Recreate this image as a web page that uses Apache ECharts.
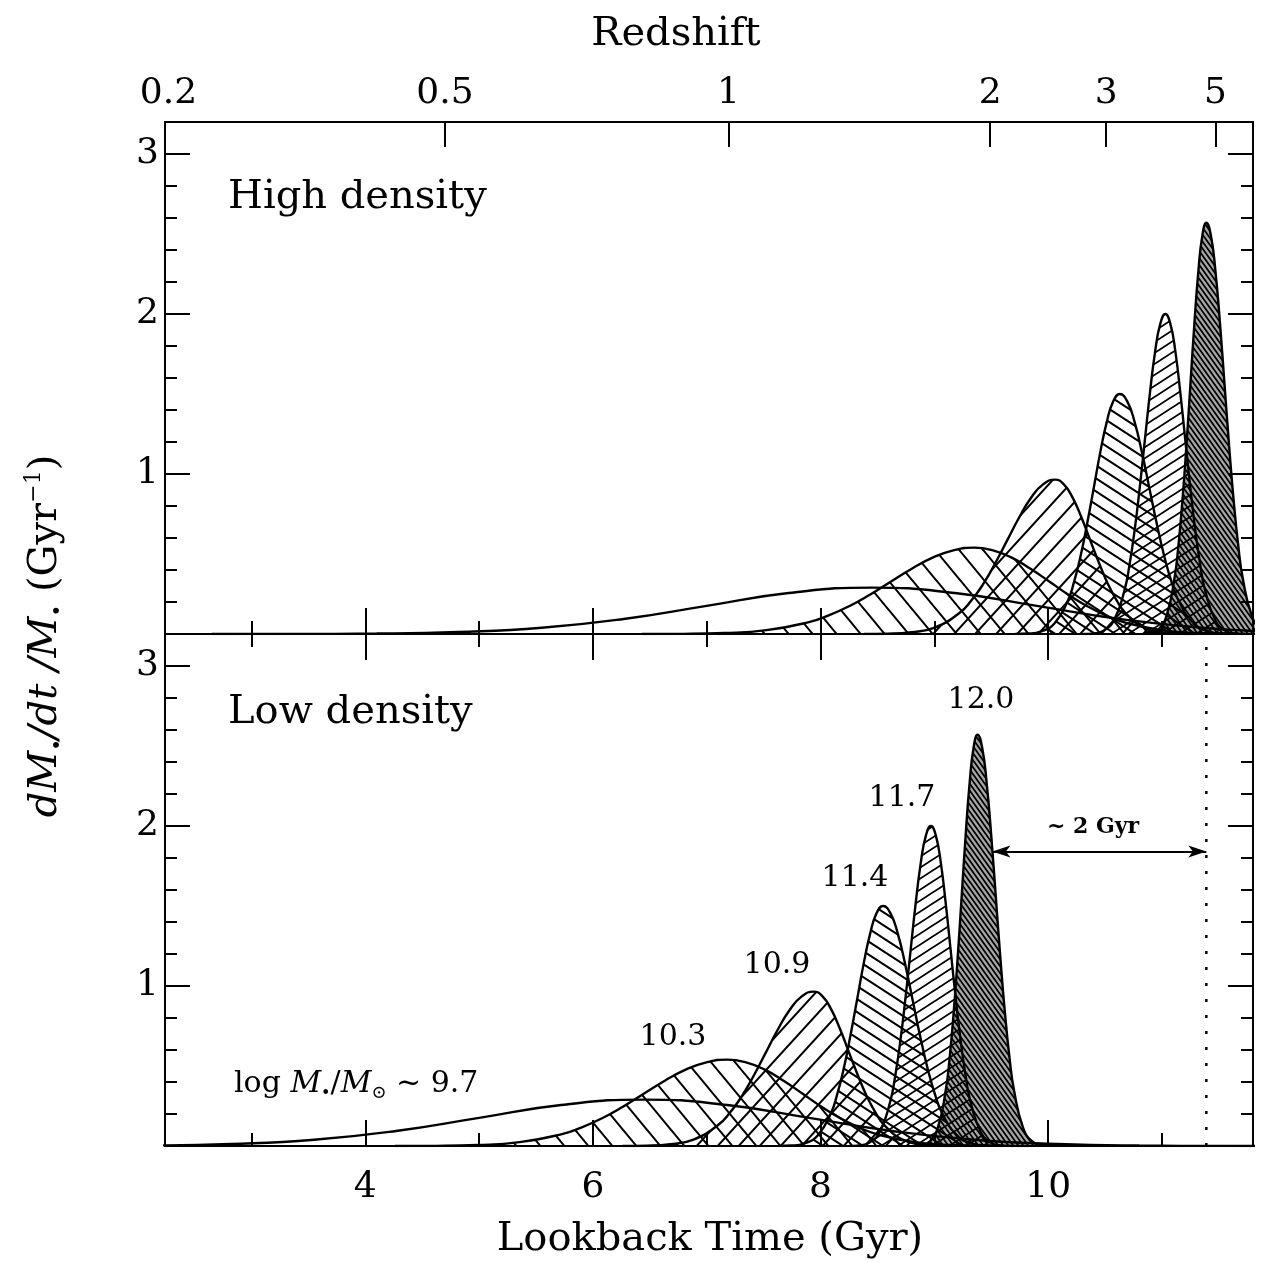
<!DOCTYPE html>
<html>
<head>
<meta charset="utf-8">
<script src="https://cdn.jsdelivr.net/npm/echarts@6/dist/echarts.min.js"></script>
<style>
  html, body { margin: 0; padding: 0; background: #fff; }
  #chart { width: 1279px; height: 1263px; }
</style>
</head>
<body>
<div id="chart"></div>
<script>
  // ---- data ----
  const masses = ['9.7', '10.3', '10.9', '11.4', '11.7', '12.0']
  // time of peak star formation (lookback Gyr) in each environment
  const peakHigh = [8.45, 9.35, 10.06, 10.63, 11.03, 11.39]
  const peakLow = [6.45, 7.18, 7.94, 8.55, 8.97, 9.38]

  // shape of each SFH: offset from peak (Gyr) and dM/dt/M (Gyr^-1)
  const dt97 = [-5.8, -5.08, -4.35, -3.63, -2.9, -2.18, -1.45, -0.73, 0, 0.73, 1.45, 2.18, 2.9, 3.63, 4.35, 5.08, 5.8]
  const sfr97 = [0.0001, 0.0006, 0.003, 0.013, 0.039, 0.094, 0.176, 0.256, 0.29, 0.256, 0.176, 0.094, 0.039, 0.013, 0.003, 0.0006, 0.0001]
  const dt103 = [-2.92, -2.555, -2.19, -1.825, -1.46, -1.278, -1.095, -0.913, -0.73, -0.548, -0.365, -0.183, 0,
    0.165, 0.33, 0.495, 0.66, 0.825, 0.99, 1.155, 1.32, 1.65, 1.98, 2.31, 2.64]
  const sfr103 = [0.0002, 0.001, 0.006, 0.024, 0.073, 0.117, 0.175, 0.247, 0.328, 0.408, 0.477, 0.523, 0.54,
    0.523, 0.477, 0.408, 0.328, 0.247, 0.175, 0.117, 0.073, 0.024, 0.006, 0.001, 0.0002]
  const dt109 = [-1.68, -1.47, -1.26, -1.05, -0.84, -0.735, -0.63, -0.525, -0.42, -0.315, -0.21, -0.105, 0,
    0.078, 0.155, 0.233, 0.31, 0.388, 0.465, 0.543, 0.62, 0.775, 0.93, 1.085, 1.24]
  const sfr109 = [0.0003, 0.002, 0.011, 0.042, 0.131, 0.209, 0.313, 0.442, 0.585, 0.728, 0.852, 0.935, 0.965,
    0.935, 0.852, 0.728, 0.585, 0.442, 0.313, 0.209, 0.131, 0.042, 0.011, 0.002, 0.0003]
  const dt114 = [-0.92, -0.805, -0.69, -0.575, -0.46, -0.403, -0.345, -0.288, -0.23, -0.173, -0.115, -0.058, 0,
    0.065, 0.13, 0.195, 0.26, 0.325, 0.39, 0.455, 0.52, 0.65, 0.78, 0.91, 1.04]
  const sfr114 = [0.0005, 0.003, 0.017, 0.066, 0.203, 0.324, 0.487, 0.687, 0.91, 1.132, 1.324, 1.454, 1.5,
    1.454, 1.324, 1.132, 0.91, 0.687, 0.487, 0.324, 0.203, 0.066, 0.017, 0.003, 0.0005]
  const dt117 = [-0.72, -0.63, -0.54, -0.45, -0.36, -0.315, -0.27, -0.225, -0.18, -0.135, -0.09, -0.045, 0,
    0.044, 0.088, 0.131, 0.175, 0.219, 0.263, 0.306, 0.35, 0.438, 0.525, 0.613, 0.7]
  const sfr117 = [0.0006, 0.004, 0.022, 0.088, 0.271, 0.433, 0.649, 0.916, 1.213, 1.51, 1.765, 1.938, 2.0,
    1.938, 1.765, 1.51, 1.213, 0.916, 0.649, 0.433, 0.271, 0.088, 0.022, 0.004, 0.0006]
  const dt120 = [-0.56, -0.49, -0.42, -0.35, -0.28, -0.245, -0.21, -0.175, -0.14, -0.105, -0.07, -0.035, 0,
    0.04, 0.08, 0.12, 0.16, 0.2, 0.24, 0.28, 0.32, 0.4, 0.48, 0.56, 0.64]
  const sfr120 = [0.0008, 0.006, 0.029, 0.113, 0.348, 0.556, 0.835, 1.177, 1.559, 1.94, 2.268, 2.491, 2.57,
    2.491, 2.268, 1.94, 1.559, 1.177, 0.835, 0.556, 0.348, 0.113, 0.029, 0.006, 0.0008]

  const shapes = [[dt97, sfr97], [dt103, sfr103], [dt109, sfr109], [dt114, sfr114], [dt117, sfr117], [dt120, sfr120]]

  // axes
  const tMin = 2.24, tMax = 11.8
  const sfrMin = 0, sfrMax = 3.2
  const tMajor = [4, 6, 8, 10]
  const tMinor = [3, 5, 7, 9, 11]
  const yMajor = [1, 2, 3]
  const yMinor = [0.2, 0.4, 0.6, 0.8, 1.2, 1.4, 1.6, 1.8, 2.2, 2.4, 2.6, 2.8, 3.2]
  const zLabels = ['0.2', '0.5', '1', '2', '3', '5']
  const zAt = [2.27, 4.70, 7.19, 9.49, 10.51, 11.47]

  // "~2 Gyr" arrow: from low-density 12.0 curve to high-density 12.0 peak
  const arrowFrom = [9.51, 1.84]
  const arrowTo = [peakHigh[5], 1.84]

  const SERIF = '"DejaVu Serif", serif'

  // ---- hatch patterns ----
  function hatch(w, h, dir, lw, bg) {
    const c = document.createElement('canvas')
    c.width = w
    c.height = h
    const g = c.getContext('2d')
    if (bg) {
      g.fillStyle = bg
      g.fillRect(0, 0, w, h)
    }
    g.strokeStyle = '#000'
    g.lineWidth = lw
    g.beginPath()
    for (let k = -1; k <= 1; k++) {
      if (dir > 0) {
        g.moveTo(k * w - w, -h)
        g.lineTo(k * w + 2 * w, 2 * h)
      } else {
        g.moveTo(k * w - w, 2 * h)
        g.lineTo(k * w + 2 * w, -h)
      }
    }
    g.stroke()
    return {image: c, repeat: 'repeat'}
  }

  const fills = [
    null,
    hatch(24, 29, 1, 2),
    hatch(21, 23, -1, 2),
    hatch(20, 13, 1, 2),
    hatch(17, 11, -1, 1.8),
    hatch(5, 7, 1, 1.8, 'rgba(0,0,0,0.35)')
  ]

  // ---- axes ----
  function xAx(grid, pos, ticks, len, label) {
    return {
      type: 'value', gridIndex: grid, position: pos, min: tMin, max: tMax,
      splitLine: {show: false},
      axisLine: {show: true, onZero: false, lineStyle: {color: '#000', width: 2}},
      axisTick: {show: true, inside: true, length: len, customValues: ticks, lineStyle: {color: '#000', width: 2}},
      axisLabel: label || {show: false}
    }
  }

  function yAx(grid, pos, ticks, len, label) {
    return {
      type: 'value', gridIndex: grid, position: pos, min: sfrMin, max: sfrMax,
      splitLine: {show: false},
      axisLine: {show: true, onZero: false, lineStyle: {color: '#000', width: 2}},
      axisTick: {show: true, inside: true, length: len, customValues: ticks, lineStyle: {color: '#000', width: 2}},
      axisLabel: label || {show: false}
    }
  }

  const tickFont = {color: '#000', fontFamily: SERIF, fontSize: 36}

  const xAxes = [
    xAx(0, 'bottom', tMinor, 13),
    xAx(0, 'bottom', tMajor, 26),
    xAx(0, 'top', zAt.slice(1), 25, Object.assign({
      show: true, margin: 10, customValues: zAt,
      formatter: v => {
        const i = zAt.findIndex(a => Math.abs(a - v) < 1e-6)
        return i < 0 ? '' : zLabels[i]
      }
    }, tickFont)),
    xAx(1, 'bottom', tMinor, 13),
    xAx(1, 'bottom', tMajor, 26, Object.assign({show: true, margin: 24, customValues: tMajor}, tickFont)),
    xAx(1, 'top', tMinor, 13),
    xAx(1, 'top', tMajor, 26)
  ]

  const yAxes = [
    yAx(0, 'left', yMinor, 12),
    yAx(0, 'left', yMajor, 25, Object.assign({show: true, margin: 6, customValues: yMajor}, tickFont)),
    yAx(0, 'right', yMinor, 12),
    yAx(0, 'right', yMajor, 25),
    yAx(1, 'left', yMinor, 12),
    yAx(1, 'left', yMajor, 25, Object.assign({show: true, margin: 6, customValues: yMajor}, tickFont)),
    yAx(1, 'right', yMinor, 12),
    yAx(1, 'right', yMajor, 25)
  ]

  // ---- series ----
  const series = []
  const panels = [{peaks: peakHigh, x: 0, y: 0}, {peaks: peakLow, x: 3, y: 4}]
  panels.forEach((p, pi) => {
    masses.forEach((m, i) => {
      const dt = shapes[i][0], sfr = shapes[i][1]
      const s = {
        name: m + (pi === 0 ? ' high' : ' low'),
        type: 'line',
        xAxisIndex: p.x,
        yAxisIndex: p.y,
        data: dt.map((d, k) => [p.peaks[i] + d, sfr[k]]),
        smooth: 0.5,
        symbol: 'none',
        clip: true,
        lineStyle: {color: '#000', width: 2.4},
        z: 2 + i
      }
      if (fills[i]) s.areaStyle = {color: fills[i], opacity: 1}
      series.push(s)
    })
  })

  // dotted marker at high-density 12.0 peak plus the ~2 Gyr arrow
  series.push({
    type: 'line',
    xAxisIndex: 3,
    yAxisIndex: 4,
    data: [[peakHigh[5], sfrMin], [peakHigh[5], sfrMax]],
    symbol: 'none',
    lineStyle: {color: '#000', width: 2.5, type: [3, 13]},
    z: 10,
    markLine: {
      silent: true,
      symbol: ['arrow', 'arrow'],
      symbolSize: [9, 18],
      label: {show: false},
      lineStyle: {color: '#000', width: 2, type: 'solid'},
      data: [[{coord: arrowFrom}, {coord: arrowTo}]]
    }
  })

  function txt(x, y, text, size, extra) {
    return {
      type: 'text', x: x, y: y, z: 100,
      style: Object.assign({
        text: text, fontFamily: SERIF, fontSize: size, fill: '#000',
        align: 'center', verticalAlign: 'middle'
      }, extra || {})
    }
  }

  const rs = (o) => Object.assign({fontFamily: SERIF, fill: '#000'}, o)

  const option = {
    animation: false,
    backgroundColor: '#fff',
    grid: [
      {left: 165, top: 122, width: 1088, height: 512},
      {left: 165, top: 634, width: 1088, height: 512}
    ],
    xAxis: xAxes,
    yAxis: yAxes,
    series: series,
    graphic: [
      txt(676, 35, 'Redshift', 40),
      txt(710, 1240, 'Lookback Time (Gyr)', 40),
      txt(228, 198, 'High density', 40, {align: 'left'}),
      txt(228, 713, 'Low density', 40, {align: 'left'}),
      txt(981, 700, '12.0', 30),
      txt(902, 798, '11.7', 30),
      txt(855, 878, '11.4', 30),
      txt(777, 965, '10.9', 30),
      txt(673, 1037, '10.3', 30),
      txt(1093, 827, '~ 2 Gyr', 22, {fontWeight: 'bold'}),
      {
        type: 'text', x: 234, y: 1084, z: 100,
        style: {
          text: '{n|log }{i|M}{s|•}{n|/}{i|M}{o|⊙}{n| ~ 9.7}',
          align: 'left', verticalAlign: 'middle',
          rich: {
            n: rs({fontSize: 30, lineHeight: 36}),
            i: rs({fontSize: 30, fontStyle: 'italic', lineHeight: 36}),
            s: rs({fontSize: 16, verticalAlign: 'bottom', lineHeight: 36}),
            o: rs({fontSize: 18, verticalAlign: 'bottom', lineHeight: 36})
          }
        }
      },
      {
        type: 'text', x: 46, y: 636, rotation: Math.PI / 2, z: 100,
        style: {
          text: '{i|dM}{s|•}{i|/dt /M}{s|•}{n| (Gyr}{p|−1}{n|)}',
          align: 'center', verticalAlign: 'middle',
          rich: {
            i: rs({fontSize: 40, fontStyle: 'italic', lineHeight: 46}),
            n: rs({fontSize: 40, lineHeight: 46}),
            s: rs({fontSize: 20, verticalAlign: 'bottom', lineHeight: 46}),
            p: rs({fontSize: 22, verticalAlign: 'top', lineHeight: 46})
          }
        }
      }
    ]
  }

  const chart = echarts.init(document.getElementById('chart'))
  chart.setOption(option)
</script>
</body>
</html>
